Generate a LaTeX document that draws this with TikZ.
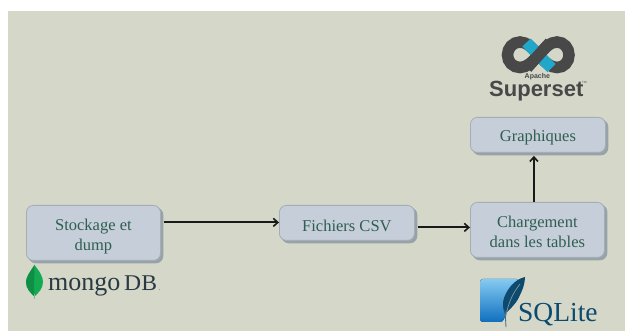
\documentclass[tikz,border=0pt]{standalone}
\usepackage{fontspec}
\setmainfont{Liberation Serif}
\newfontfamily\logosans{Liberation Sans}
\newfontfamily\dbfont[FakeStretch=1.05]{Liberation Serif}
\usetikzlibrary{arrows.meta}
\definecolor{bgc}{HTML}{D5D7C9}
\definecolor{boxc}{HTML}{C6CED9}
\definecolor{shadc}{HTML}{98A3A9}
\definecolor{edgec}{HTML}{A3AEB6}
\definecolor{txtc}{HTML}{2F5F50}
\definecolor{supc}{HTML}{484848}
\definecolor{supb}{HTML}{20A7C9}
\definecolor{mgreen}{HTML}{13AA52}
\definecolor{mdark}{HTML}{0F8F45}
\definecolor{mtxt}{HTML}{2A3A42}
\definecolor{sqlc}{HTML}{0D4A6E}
\definecolor{sqltop}{HTML}{85CBF2}
\definecolor{sqlbot}{HTML}{0F6FBE}
\newcommand{\padtop}[1]{\rule{0pt}{#1pt}}
\tikzset{
  flowbox/.style={draw=edgec,line width=0.8pt,fill=boxc,rounded corners=7pt,text=txtc,align=center,
    font=\fontsize{16.5}{20}\selectfont,inner sep=0pt,anchor=north west,
    preaction={draw=shadc,fill=shadc,transform canvas={shift={(2.5pt,-2.5pt)}}}},
  flowarrow/.style={draw=black!90,line width=2pt,-{Straight Barb[length=4.5pt,width=8pt,line width=1.6pt]}},
  logotext/.style={inner sep=0pt,anchor=base west}
}
\begin{document}
\begin{tikzpicture}[x=1pt,y=-1pt]
\useasboundingbox (0,0) rectangle (625,331);
\fill[white] (0,0) rectangle (625,331);
\fill[bgc] (8,11) rectangle (625,331);

% boxes
\node[flowbox,minimum width=134pt,minimum height=55pt] (stock) at (26,205) {\padtop{18}Stockage et\\dump};
\node[flowbox,minimum width=135pt,minimum height=35pt] (csv) at (279,205) {\padtop{17}Fichiers CSV};
\node[flowbox,minimum width=134pt,minimum height=55pt] (charge) at (470,202) {\padtop{15}Chargement\\dans les tables};
\node[flowbox,minimum width=135pt,minimum height=35pt] (graph) at (470,117) {\padtop{17}Graphiques};

% connectors
\coordinate (s1) at ([xshift=3pt,yshift=10.5pt]stock.east);
\coordinate (c1) at (csv.west |- s1);
\draw[flowarrow] (s1) -- (c1);
\coordinate (c2) at ([xshift=3pt,yshift=-4.5pt]csv.east);
\coordinate (d2) at (charge.west |- c2);
\draw[flowarrow] (c2) -- (d2);
\coordinate (u1) at ([xshift=-3.5pt]charge.north);
\coordinate (u2) at (u1 |- graph.south);
\draw[flowarrow] (u1) -- ([yshift=-3pt]u2);

% Superset logo
\begin{scope}[line width=11.5pt]
\draw[supc] (538.5,55) .. controls (545,48) and (550,42) .. (557,42)
  .. controls (564,42) and (569,48) .. (569,55)
  .. controls (569,62) and (564,67.5) .. (557,67.5)
  .. controls (550,67.5) and (545,62) .. (538.5,55)
  .. controls (532,48) and (527,42) .. (520,42)
  .. controls (513,42) and (507.5,48) .. (507.5,55)
  .. controls (507.5,62) and (513,67.5) .. (520,67.5)
  .. controls (527,67.5) and (532,62) .. (538.5,55) -- cycle;
\draw[supb] (526.5,42.5) -- (538.5,55) -- (551.5,68);
\draw[supc] (527,68) -- (550,42.5);
\end{scope}
\node[logotext,text=supc,font=\logosans\bfseries\fontsize{7}{7}\selectfont] (apache) at (524.5,78.5) {Apache};
\node[logotext,text=supc,font=\logosans\bfseries\fontsize{22}{22}\selectfont] (superset) at (489,97) {Superset};
\node[logotext,text=supc,font=\logosans\fontsize{3}{3}\selectfont] (tm) at (582,84) {TM};

% mongoDB logo
\fill[mgreen] (34.5,265) .. controls (40,272) and (43,277) .. (43,282)
  .. controls (43,289) and (38,293) .. (35,296) -- (34,296)
  .. controls (31,293) and (26,289) .. (26,282)
  .. controls (26,277) and (30,272) .. (34.5,265) -- cycle;
\fill[mdark] (34.5,265) .. controls (30,272) and (26,277) .. (26,282)
  .. controls (26,289) and (31,293) .. (34,296) -- cycle;
\draw[mgreen!50!bgc,line width=1pt] (34.5,294) -- (34.5,299);
\node[logotext,text=mtxt,font=\fontsize{26}{26}\selectfont] (mongo) at (48,291) {mongo};
\node[logotext,text=mtxt,font=\dbfont\fontsize{22.5}{22.5}\selectfont] (db) at (124,291) {DB};
\node[logotext,text=mtxt!60!bgc,font=\fontsize{8}{8}\selectfont] (reg) at (158.5,291) {.};

% SQLite logo
\fill[top color=sqltop,bottom color=sqlbot,rounded corners=3pt]
  (480,279) -- (519,279) -- (510,300) -- (503,322) -- (480,322) -- cycle;
\fill[sqlc] (525,277) .. controls (516,279) and (508,287) .. (504,298)
  .. controls (502,304) and (503,309) .. (505,314)
  .. controls (510,309) and (517,303) .. (520,295)
  .. controls (523,289) and (525,283) .. (525,277) -- cycle;
\draw[sqlc!45!bgc,line width=0.7pt] (520,284) .. controls (513,293) and (508,303) .. (506,316);
\draw[sqlc!75!bgc,line width=0.8pt] (505,310) -- (506,327);
\node[logotext,text=sqlc,font=\fontsize{27.5}{27.5}\selectfont] (sqlite) at (518,322) {SQLite};
\end{tikzpicture}
\end{document}
